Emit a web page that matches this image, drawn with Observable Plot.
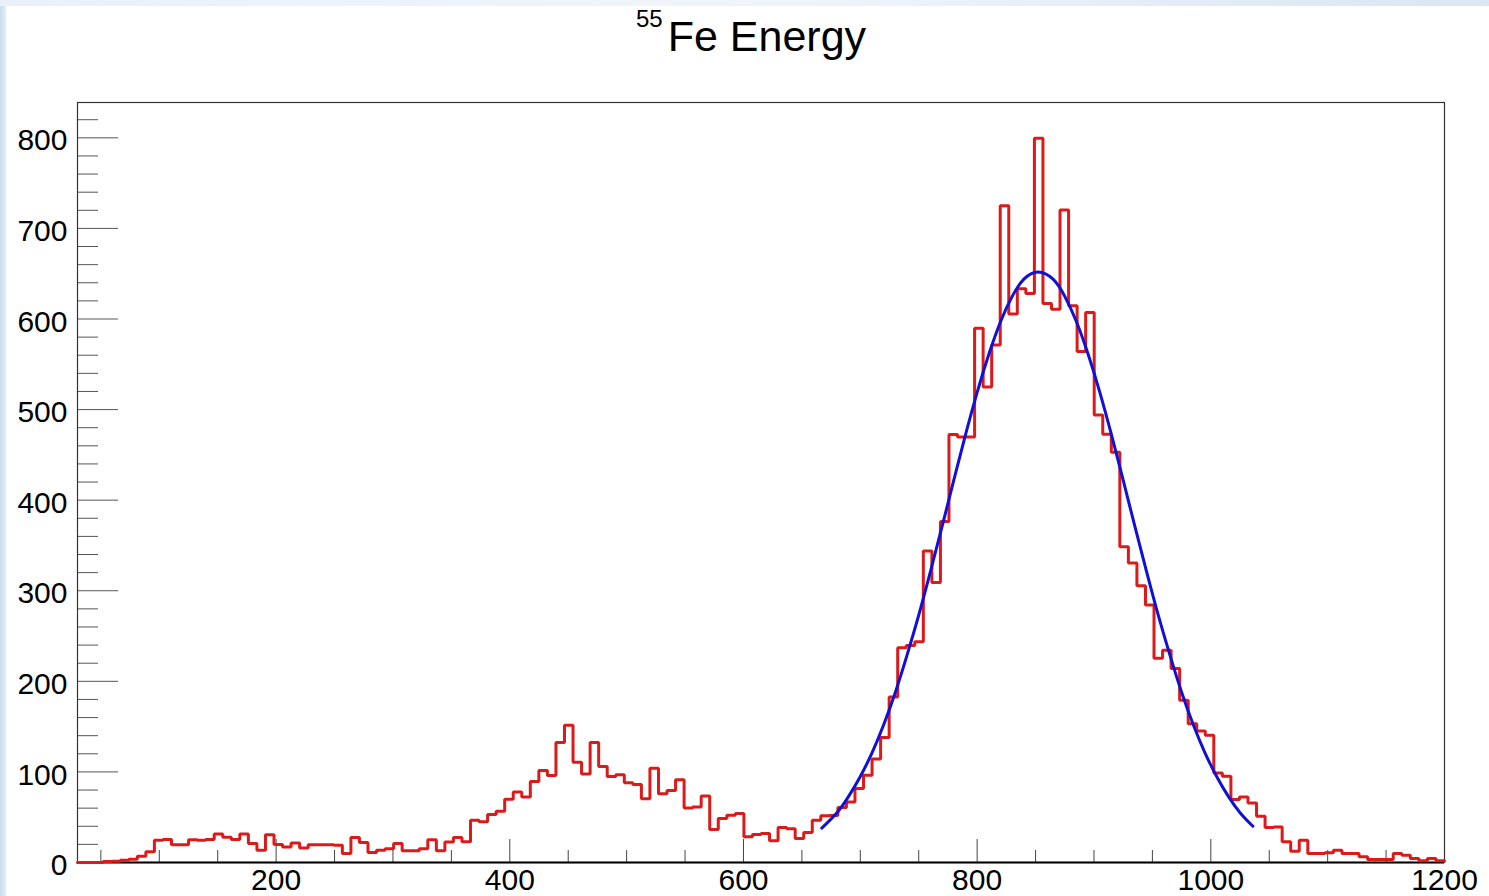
<!DOCTYPE html>
<html>
<head>
<meta charset="utf-8">
<script src="https://cdn.jsdelivr.net/npm/d3@7"></script>
<script src="https://cdn.jsdelivr.net/npm/@observablehq/plot@0.6"></script>
<style>
  html, body { margin: 0; padding: 0; background: #ffffff; }
  #wrap { position: relative; width: 1489px; height: 896px; overflow: hidden; background: #ffffff; }
  #edgeLeft { position: absolute; left: 0; top: 0; width: 6px; height: 896px; background: linear-gradient(to right, #c9dcef, #e4eef8); }
  #edgeTop { position: absolute; left: 0; top: 0; width: 1489px; height: 6px; background: linear-gradient(to right, #e8f0f9, #f1f5fb 50%, #d9e6f3); }
  #title { position: absolute; left: 636px; top: 15px; font-family: "Liberation Sans", Arial, sans-serif; font-size: 43px; line-height: 43px; color: #000; white-space: nowrap; }
  #title sup { font-size: 24px; vertical-align: 24px; line-height: 0; margin-right: 5px; }
  #chart { position: absolute; left: 0; top: 0; }
</style>
</head>
<body>
<div id="wrap">
  <div id="chart"></div>
  <div id="edgeLeft"></div>
  <div id="edgeTop"></div>
  <div id="title"><sup>55</sup>Fe Energy</div>
</div>
<script>
// Histogram binning (x range of the histogram) and bin contents
const xMin = 30;
const xMax = 1200;
const counts = [
  0, 0, 0, 1, 1.5, 2.5, 3.5, 7, 12, 24.5,
  25.5, 19.5, 19.5, 25, 24.5, 25.5, 31.5, 28, 25.5, 31.5,
  21, 13.5, 30.5, 20, 17, 21.5, 16, 19.5, 19.5, 19.5,
  19, 10, 27.5, 22, 11, 13.5, 15.3, 21, 13, 13,
  15.3, 25, 13, 22.6, 27.5, 23, 46.7, 45, 53, 56.6,
  69.7, 77.7, 72.3, 89.4, 101.5, 96, 132.5, 151.5, 110.6, 97.8,
  132.5, 106, 95, 97, 88, 86, 70.4, 104, 76, 79.6,
  91.3, 60.2, 61.3, 73.4, 36.5, 48.5, 52.2, 54, 28.5, 31,
  32, 24, 38.7, 37.2, 26.6, 33.2, 46.7, 51.5, 52, 60.6,
  66.9, 81.6, 96.4, 114.3, 138, 182.7, 237, 239.6, 243.8, 343.9,
  309, 376.5, 472.4, 469.7, 469.7, 589.8, 525, 571.4, 725, 605.6,
  633.5, 628.2, 799.4, 617.2, 610.8, 720.4, 614.5, 564, 607.2, 494,
  472.9, 452.9, 348.6, 330.7, 305.4, 284.4, 225.4, 234.3, 214.3, 179,
  153.3, 145.2, 140.4, 98.9, 95.2, 69.5, 72.4, 65.8, 51.1, 38.6,
  39.3, 22.8, 12.5, 24.6, 9.9, 9.9, 10.7, 13.6, 9.9, 9.9,
  6.3, 3.3, 3.3, 3.3, 9.9, 8.1, 4.4, 1.8, 4.4, 1.8
];

// Fitted curve
const fitX = [667, 680, 690, 700, 710, 720, 730, 740, 750, 760, 770, 780, 790, 800, 810, 820, 830, 840, 852,
              865, 875, 885, 895, 905, 915, 925, 935, 945, 955, 965, 975, 985, 995, 1005, 1015, 1025, 1036];
const fitY = [38, 55, 73, 95, 121, 152, 188, 229, 273, 321, 371, 422, 472, 519, 561, 597, 625, 644, 652,
              644, 625, 597, 561, 519, 472, 422, 371, 321, 273, 229, 188, 152, 121, 95, 73, 55, 40];

// Axis ticks
const yMax = 839;
const yLabels = [0, 100, 200, 300, 400, 500, 600, 700, 800];
const yMinorTicks = [20, 40, 60, 80, 120, 140, 160, 180, 220, 240, 260, 280, 320, 340, 360, 380,
                     420, 440, 460, 480, 520, 540, 560, 580, 620, 640, 660, 680, 720, 740, 760, 780, 820];
const xLabels = [200, 400, 600, 800, 1000, 1200];
const xMinorTicks = [50, 100, 150, 250, 300, 350, 450, 500, 550, 650, 700, 750, 850, 900, 950, 1050, 1100, 1150];

const binWidth = (xMax - xMin) / counts.length;
const steps = counts.flatMap((c, i) => [
  {x: xMin + i * binWidth, y: c},
  {x: xMin + (i + 1) * binWidth, y: c}
]);
const fit = fitX.map((x, i) => ({x, y: fitY[i]}));

const W = 1489, H = 896;
const mL = 77, mR = 45, mT = 102, mB = 34;
const plotW = W - mL - mR;
const plotH = H - mT - mB;

const chart = Plot.plot({
  width: W,
  height: H,
  marginLeft: mL,
  marginRight: mR,
  marginTop: mT,
  marginBottom: mB,
  x: {domain: [xMin, xMax]},
  y: {domain: [0, yMax]},
  style: {fontFamily: "'Liberation Sans', Arial, sans-serif", fontSize: "30px", color: "#000", background: "transparent", overflow: "visible"},
  marks: [
    Plot.ruleY(yMinorTicks, {insetRight: plotW - 21, stroke: "#555", strokeWidth: 1}),
    Plot.ruleY(yLabels, {insetRight: plotW - 41, stroke: "#555", strokeWidth: 1}),
    Plot.ruleX(xMinorTicks, {insetTop: plotH - 12, stroke: "#444", strokeWidth: 1}),
    Plot.ruleX(xLabels, {insetTop: plotH - 23, stroke: "#444", strokeWidth: 1}),
    Plot.frame({stroke: "#333", strokeWidth: 1.2}),
    Plot.ruleY([0], {stroke: "#000", strokeWidth: 2.2}),
    Plot.line(steps, {x: "x", y: "y", stroke: "#dc1a1a", strokeWidth: 3, strokeLinejoin: "miter"}),
    Plot.line(fit, {x: "x", y: "y", curve: "natural", stroke: "#1010d6", strokeWidth: 3}),
    Plot.axisY(yLabels, {tickSize: 0, tickPadding: 10, label: null, dy: 3, fontSize: 30, tickFormat: d => String(d)}),
    Plot.axisX(xLabels, {tickSize: 0, tickPadding: 6, label: null, fontSize: 30, tickFormat: d => String(d)})
  ]
});
document.getElementById("chart").appendChild(chart);
</script>
</body>
</html>
